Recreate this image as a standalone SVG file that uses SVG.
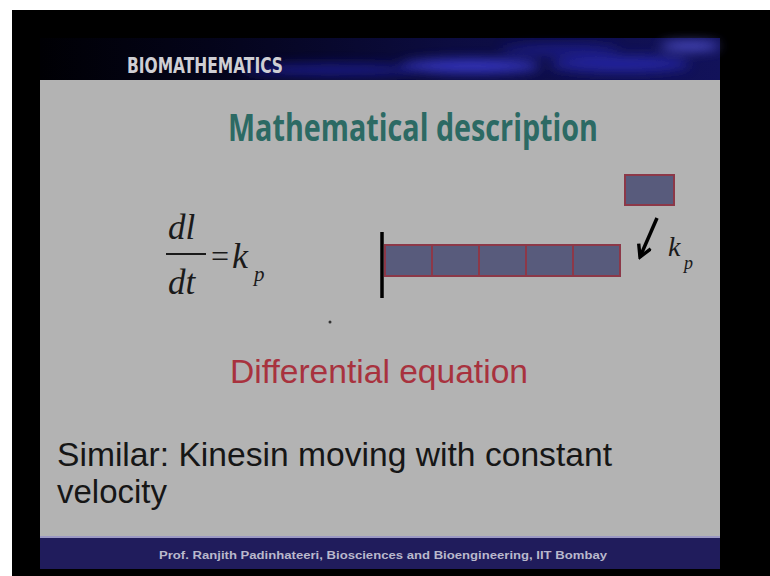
<svg xmlns="http://www.w3.org/2000/svg" width="770" height="576" viewBox="0 0 770 576">
<defs>
<style>
.cell{fill:#585b7c;stroke:#8c3848;stroke-width:2}
.eq{font-family:"Liberation Serif","Times New Roman",serif;font-style:italic;fill:#1a1a1a}
.body{font-family:"Liberation Sans",Arial,sans-serif;fill:#161616}
</style>
<linearGradient id="hdr" x1="0" y1="0" x2="1" y2="0">
<stop offset="0" stop-color="#000004"/>
<stop offset="0.25" stop-color="#04041a"/>
<stop offset="0.6" stop-color="#0c0c40"/>
<stop offset="1" stop-color="#12125a"/>
</linearGradient>
<filter id="blur" x="-50%" y="-200%" width="200%" height="500%"><feGaussianBlur stdDeviation="6"/></filter>
<marker id="ah" viewBox="0 0 12 12" refX="10" refY="6" markerWidth="4.5" markerHeight="4.5" orient="auto" markerUnits="strokeWidth">
<path d="M1,1 L10,6 L1,11" fill="none" stroke="#000" stroke-width="2.6"/>
</marker>
</defs>
<rect width="770" height="576" fill="#000"/>
<rect x="0" y="0" width="770" height="10" fill="#fff"/>
<rect x="0" y="0" width="12" height="576" fill="#fff"/>
<g id="header">
<rect x="40" y="38" width="680" height="42" fill="url(#hdr)"/>
<g filter="url(#blur)" opacity="0.9">
<ellipse cx="470" cy="66" rx="70" ry="7" fill="#3a3ad0"/>
<ellipse cx="330" cy="70" rx="90" ry="6" fill="#1c1c90"/>
<ellipse cx="620" cy="64" rx="70" ry="8" fill="#2828a8"/>
<ellipse cx="690" cy="46" rx="30" ry="4" fill="#6060e8"/>
<ellipse cx="560" cy="50" rx="60" ry="4" fill="#2020a0"/>
</g>
<text x="127" y="73" font-family="DejaVu Sans Condensed,DejaVu Sans,sans-serif" font-weight="bold" font-size="22" fill="#cfcfd4" textLength="156" lengthAdjust="spacingAndGlyphs">BIOMATHEMATICS</text>
</g>
<rect x="40" y="80" width="680" height="457" fill="#b3b3b3"/>
<g id="footer">
<rect x="40" y="537" width="680" height="32" fill="#201c5c"/>
<rect x="40" y="536" width="680" height="2" fill="#9b98c4"/>
<text x="383" y="559" text-anchor="middle" font-family="Liberation Sans,Arial,sans-serif" font-weight="bold" font-size="11" fill="#b9b8cc" textLength="448" lengthAdjust="spacingAndGlyphs">Prof. Ranjith Padinhateeri, Biosciences and Bioengineering, IIT Bombay</text>
</g>
<g id="title">
<text x="228" y="141" font-family="Open Sans,Noto Sans,sans-serif" font-weight="bold" font-size="38" fill="#2c6a64" textLength="370" lengthAdjust="spacingAndGlyphs">Mathematical description</text>
</g>
<g id="equation">
<text class="eq" x="168" y="239" font-size="35">dl</text>
<line x1="166" y1="254" x2="206" y2="254" stroke="#1a1a1a" stroke-width="1.8"/>
<text class="eq" x="168" y="294" font-size="35">dt</text>
<text x="211" y="267" font-family="Liberation Serif,serif" font-size="32" fill="#1a1a1a">=</text>
<text class="eq" x="232" y="268" font-size="36">k</text>
<text class="eq" x="254" y="281" font-size="21">p</text>
</g>
<g id="filament">
<line x1="382" y1="232" x2="382" y2="298" stroke="#000" stroke-width="3.5"/>
<rect class="cell" x="385" y="245" width="47" height="31"/>
<rect class="cell" x="432" y="245" width="47" height="31"/>
<rect class="cell" x="479" y="245" width="47" height="31"/>
<rect class="cell" x="526" y="245" width="47" height="31"/>
<rect class="cell" x="573" y="245" width="47" height="31"/>
</g>
<g id="monomer">
<rect class="cell" x="625" y="175" width="49" height="30"/>
</g>
<g id="connectors">
<line x1="657" y1="218" x2="640" y2="257" stroke="#000" stroke-width="3.5" marker-end="url(#ah)"/>
</g>
<g id="rate-label">
<text class="eq" x="668" y="256" font-size="28">k</text>
<text class="eq" x="684" y="269" font-size="18">p</text>
</g>
<circle cx="330" cy="322" r="1.5" fill="#333"/>
<g id="caption">
<text x="230" y="383" font-family="Liberation Sans,Arial,sans-serif" font-size="33" fill="#a8323e" textLength="298" lengthAdjust="spacingAndGlyphs">Differential equation</text>
</g>
<g id="note">
<text class="body" x="57" y="466" font-size="33" textLength="555" lengthAdjust="spacingAndGlyphs">Similar: Kinesin moving with constant</text>
<text class="body" x="57" y="503" font-size="33">velocity</text>
</g>
</svg>
